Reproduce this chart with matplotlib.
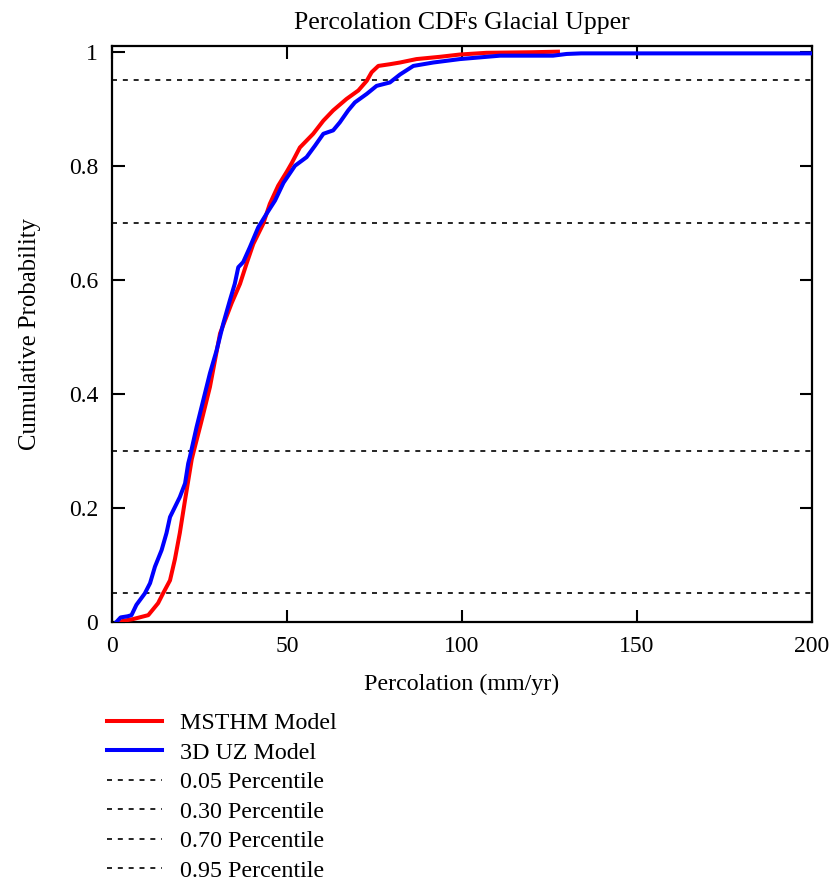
import numpy as np
import matplotlib.pyplot as plt

plt.rcParams['font.family'] = ['Liberation Serif', 'DejaVu Serif']

# MSTHM model CDF
msthm_x = [2.3, 3.2, 6.0, 10.4, 13.2, 14.6, 16.6, 18.0, 19.4, 20.9, 22.8, 23.2, 25.5,
           28.0, 30.9, 34.2, 36.6, 38.5, 40.4, 43.2, 45.1, 47.5, 50.0, 51.4, 53.7,
           57.5, 60.4, 63.2, 67.0, 70.4, 72.8, 74.2, 76.1, 79.4, 82.3, 87.0, 93.7,
           99.4, 107.0, 120.0, 127.4]
msthm_y = [0.0, 0.002, 0.005, 0.012, 0.033, 0.05, 0.073, 0.11, 0.156, 0.214, 0.285, 0.295, 0.35,
           0.412, 0.506, 0.559, 0.593, 0.629, 0.663, 0.698, 0.733, 0.765, 0.79, 0.805, 0.832,
           0.856, 0.879, 0.897, 0.917, 0.932, 0.949, 0.964, 0.975, 0.978, 0.981, 0.987, 0.991,
           0.995, 0.998, 0.999, 1.0]

# 3D UZ model CDF
uz_x = [1.3, 2.5, 4.5, 5.6, 7.0, 9.4, 10.9, 12.3, 14.2, 15.6, 16.6, 19.4, 20.9, 21.8,
        22.3, 24.2, 26.1, 28.0, 29.9, 31.8, 33.7, 35.1, 36.1, 37.5, 39.4, 41.8, 44.2,
        46.6, 49.0, 52.3, 55.6, 58.0, 60.4, 63.2, 65.1, 67.5, 69.4, 72.8, 75.6, 79.4,
        82.3, 86.1, 91.8, 99.4, 110.9, 126.0, 129.9, 134.0, 160.0, 200.0]
uz_y = [0.0, 0.008, 0.01, 0.012, 0.03, 0.05, 0.068, 0.097, 0.126, 0.156, 0.184, 0.219, 0.243, 0.278,
        0.29, 0.342, 0.389, 0.436, 0.476, 0.523, 0.564, 0.593, 0.622, 0.631, 0.657, 0.692, 0.716,
        0.739, 0.77, 0.8, 0.815, 0.835, 0.856, 0.862, 0.876, 0.897, 0.911, 0.926, 0.94, 0.946,
        0.96, 0.975, 0.981, 0.987, 0.993, 0.993, 0.996, 0.997, 0.997, 0.997]

percentiles = [0.05, 0.30, 0.70, 0.95]
percentile_labels = ['0.05 Percentile', '0.30 Percentile', '0.70 Percentile', '0.95 Percentile']

fig = plt.figure(figsize=(8.35, 8.84), dpi=100)
ax = fig.add_axes([0.134, 0.2964, 0.8386, 0.6516])

ax.plot(msthm_x, msthm_y, color='#ff0000', lw=2.9, label='MSTHM Model', zorder=3)
ax.plot(uz_x, uz_y, color='#0000ff', lw=2.9, label='3D UZ Model', zorder=4)
for p, lab in zip(percentiles, percentile_labels):
    ax.axhline(p, color='black', lw=1.2, ls=(0, (3, 3.5)), label=lab, zorder=2)

ax.set_xlim(0, 200)
ax.set_ylim(0, 1.01)
ax.set_xticks([0, 50, 100, 150, 200])
ax.set_yticks([0, 0.2, 0.4, 0.6, 0.8, 1.0])
ax.set_yticklabels(['0', '0.2', '0.4', '0.6', '0.8', '1'])
ax.tick_params(direction='in', length=9, width=1.5, labelsize=17, pad=10,
               top=True, right=True)
for s in ax.spines.values():
    s.set_linewidth(1.6)

ax.set_title('Percolation CDFs Glacial Upper', fontsize=18.5, pad=12)
ax.set_xlabel('Percolation (mm/yr)', fontsize=17.3, labelpad=12)
ax.set_ylabel('Cumulative Probability', fontsize=17.8, labelpad=20)

ax.legend(loc='upper left', bbox_to_anchor=(0.128, 0.1943), bbox_transform=fig.transFigure,
          frameon=False, fontsize=17.3, handlelength=2.3, handletextpad=0.76,
          labelspacing=0.32, borderpad=0, borderaxespad=0)

fig.savefig('out.png', dpi=100)
